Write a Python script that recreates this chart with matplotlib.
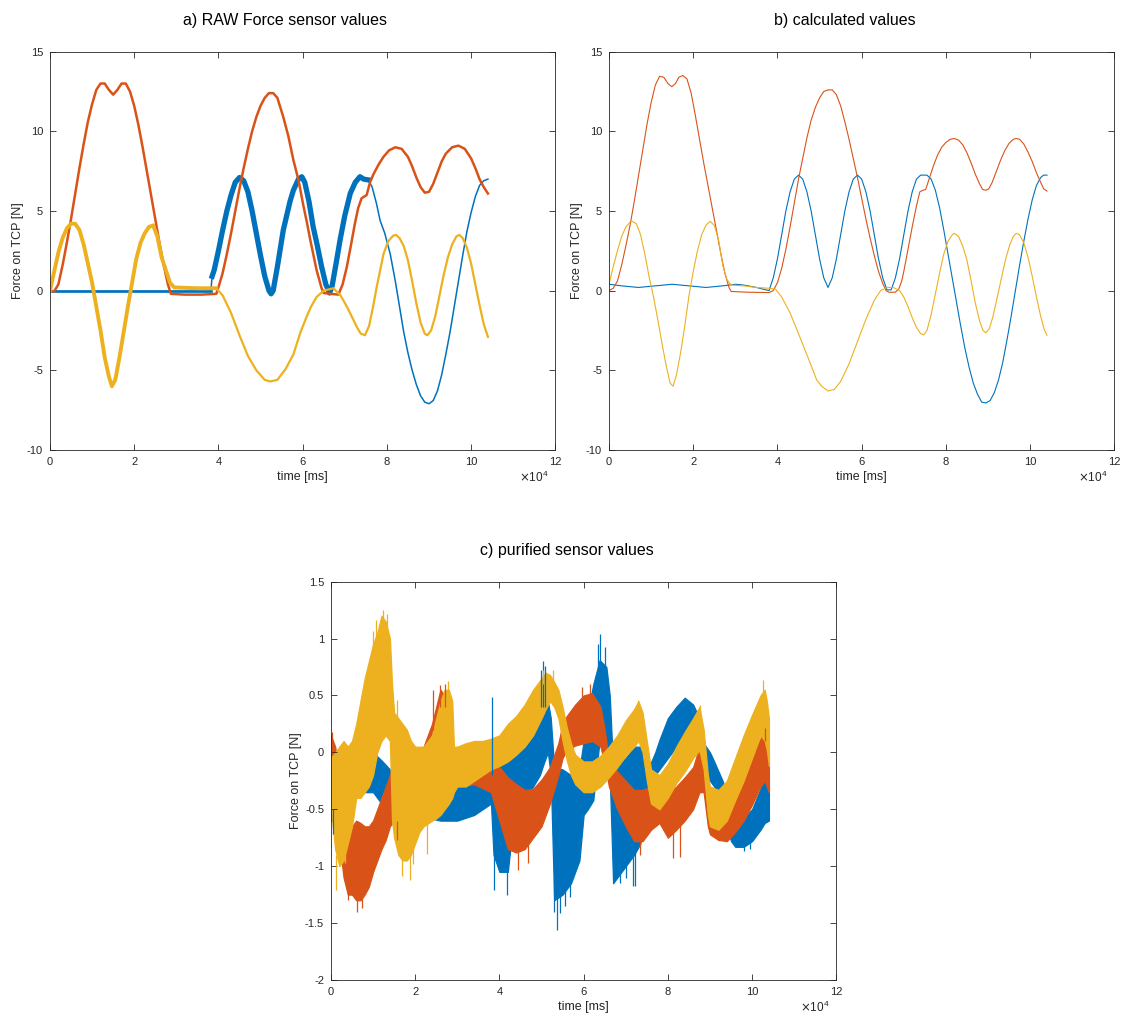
import numpy as np
import matplotlib
matplotlib.use("Agg")
import matplotlib.pyplot as plt
from matplotlib.ticker import FuncFormatter

plt.rcParams['font.family'] = ['Liberation Sans', 'DejaVu Sans']
plt.rcParams['axes.unicode_minus'] = False

# ---------------- colours (MATLAB default order) ----------------
C_BLUE = '#0072BD'
C_ORANGE = '#D95319'
C_YELLOW = '#EDB120'

# ---------------- panel a: RAW force sensor values (time in 1e4 ms) ----------------
a_blue_x = [0, 1, 2, 3, 3.82, 3.85, 3.9, 4.0, 4.1, 4.2, 4.3, 4.4, 4.5, 4.6, 4.7, 4.8, 4.9, 5.0, 5.1, 5.2,
            5.25, 5.3, 5.4, 5.54, 5.7, 5.78, 5.9, 5.98, 6.05, 6.15, 6.25, 6.35, 6.45, 6.55, 6.64, 6.7, 6.8,
            6.89, 7.0, 7.13, 7.25, 7.36, 7.45, 7.56, 7.65, 7.75, 7.84, 7.95, 8.08, 8.2, 8.3, 8.4, 8.5, 8.6,
            8.7, 8.8, 8.9, 9.0, 9.1, 9.2, 9.3, 9.4, 9.5, 9.6, 9.7, 9.8, 9.9, 10.0, 10.1, 10.2, 10.3, 10.4]
a_blue_y = [-0.05, -0.05, -0.05, -0.05, -0.05, 0.9, 1.3, 2.5, 3.8, 5.0, 6.0, 6.8, 7.1, 6.9, 6.2, 5.0, 3.6, 2.2,
            0.9, 0.0, -0.2, 0.0, 1.5, 3.8, 5.6, 6.3, 7.0, 7.15, 6.8, 5.6, 4.0, 2.8, 1.5, 0.4, -0.15, 0.3, 1.8,
            3.2, 4.7, 6.1, 6.8, 7.15, 7.0, 6.95, 6.5, 5.5, 4.4, 3.6, 2.3, 0.6, -1.0, -2.6, -3.9, -5.0,
            -5.9, -6.6, -7.0, -7.1, -6.9, -6.3, -5.3, -4.0, -2.6, -1.0, 0.6, 2.2, 3.7, 4.9, 5.9, 6.6, 6.9, 7.0]

a_orange_x = [0, 0.1, 0.2, 0.3, 0.4, 0.5, 0.6, 0.7, 0.8, 0.9, 1.0, 1.1, 1.2, 1.3, 1.4, 1.5, 1.6, 1.7, 1.8, 1.9,
              2.0, 2.1, 2.2, 2.3, 2.4, 2.5, 2.6, 2.7, 2.8, 2.87, 3.2, 3.6, 3.95, 4.0, 4.1, 4.2, 4.3, 4.4, 4.5,
              4.6, 4.7, 4.8, 4.9, 5.0, 5.1, 5.2, 5.3, 5.4, 5.54, 5.66, 5.78, 5.9, 6.02, 6.1, 6.18, 6.33, 6.45,
              6.5, 6.85, 6.95, 7.05, 7.15, 7.24, 7.32, 7.4, 7.52, 7.6, 7.68, 7.8, 7.92, 8.05, 8.2, 8.35, 8.5,
              8.6, 8.7, 8.8, 8.9, 9.0, 9.1, 9.2, 9.3, 9.4, 9.55, 9.7, 9.85, 10.0, 10.1, 10.2, 10.3, 10.4]
a_orange_y = [0.0, -0.05, 0.4, 1.6, 3.0, 4.5, 6.1, 7.7, 9.2, 10.6, 11.7, 12.6, 13.0, 13.0, 12.6, 12.3, 12.6,
              13.0, 13.0, 12.5, 11.6, 10.4, 9.0, 7.5, 6.0, 4.5, 3.0, 1.6, 0.4, -0.2, -0.25, -0.25, -0.2, 0.2,
              1.1, 2.3, 3.6, 5.0, 6.4, 7.7, 8.9, 10.0, 10.9, 11.6, 12.1, 12.4, 12.4, 12.1, 10.9, 9.7, 8.2,
              6.95, 5.3, 4.3, 3.2, 1.3, 0.15, -0.15, -0.25, 0.4, 1.5, 2.9, 4.2, 5.2, 5.8, 6.0, 6.8, 7.3, 7.9,
              8.4, 8.8, 9.0, 8.9, 8.4, 7.8, 7.1, 6.5, 6.15, 6.2, 6.7, 7.4, 8.1, 8.6, 9.0, 9.1, 8.9, 8.3, 7.7,
              7.0, 6.5, 6.1]

a_yellow_x = [0, 0.1, 0.2, 0.3, 0.4, 0.5, 0.6, 0.7, 0.8, 0.9, 1.0, 1.1, 1.2, 1.3, 1.4, 1.47, 1.55, 1.65, 1.75,
              1.85, 1.95, 2.05, 2.15, 2.25, 2.35, 2.45, 2.55, 2.65, 2.75, 2.85, 2.95, 3.5, 3.95, 4.1, 4.3, 4.5,
              4.7, 4.9, 5.1, 5.23, 5.4, 5.6, 5.78, 5.95, 6.1, 6.2, 6.33, 6.5, 6.73, 6.9, 7.05, 7.18, 7.29,
              7.38, 7.48, 7.58, 7.68, 7.76, 7.85, 7.92, 8.03, 8.15, 8.22, 8.3, 8.4, 8.5, 8.6, 8.7, 8.8, 8.9,
              8.96, 9.05, 9.15, 9.25, 9.35, 9.45, 9.55, 9.65, 9.72, 9.8, 9.9, 10.0, 10.1, 10.2, 10.3, 10.4]
a_yellow_y = [0.0, 1.2, 2.4, 3.3, 3.9, 4.2, 4.2, 3.8, 2.9, 1.7, 0.5, -1.0, -2.5, -4.2, -5.4, -6.0, -5.6, -4.2,
              -2.6, -1.0, 0.5, 2.0, 3.0, 3.6, 4.0, 4.1, 3.4, 2.1, 1.3, 0.5, 0.2, 0.15, 0.15, -0.3, -1.4, -2.8,
              -4.1, -5.0, -5.6, -5.7, -5.6, -4.9, -4.0, -2.6, -1.6, -1.0, -0.4, 0.0, 0.15, -0.3, -1.0, -1.7,
              -2.3, -2.7, -2.8, -2.2, -0.9, 0.25, 1.4, 2.3, 3.1, 3.45, 3.5, 3.3, 2.8, 1.9, 0.6, -0.8, -2.0,
              -2.7, -2.8, -2.5, -1.6, -0.3, 1.0, 2.1, 2.9, 3.4, 3.5, 3.3, 2.7, 1.7, 0.4, -0.9, -2.1, -2.9]

# ---------------- panel b: calculated values ----------------
b_blue_x = [0, 0.3, 0.7, 1.1, 1.5, 1.9, 2.3, 2.7, 3.0, 3.2, 3.5, 3.8, 3.9, 4.0, 4.1, 4.2, 4.3, 4.4, 4.5, 4.6,
            4.7, 4.8, 4.9, 5.0, 5.1, 5.2, 5.3, 5.4, 5.5, 5.6, 5.7, 5.8, 5.9, 6.0, 6.1, 6.2, 6.3, 6.4, 6.5,
            6.6, 6.7, 6.8, 6.9, 7.0, 7.1, 7.2, 7.3, 7.4, 7.55, 7.65, 7.75, 7.85, 7.95, 8.05, 8.15, 8.25,
            8.35, 8.45, 8.55, 8.65, 8.75, 8.85, 8.95, 9.05, 9.15, 9.25, 9.35, 9.45, 9.55, 9.65, 9.75, 9.85,
            9.95, 10.05, 10.15, 10.25, 10.32, 10.4]
b_blue_y = [0.4, 0.3, 0.2, 0.3, 0.4, 0.3, 0.2, 0.3, 0.4, 0.35, 0.2, 0.0, 0.8, 2.0, 3.5, 5.0, 6.2, 7.0, 7.25,
            7.0, 6.2, 5.0, 3.5, 2.0, 0.8, 0.2, 0.8, 2.0, 3.5, 5.0, 6.2, 7.0, 7.25, 7.0, 6.2, 5.0, 3.5, 2.0,
            0.8, 0.05, 0.05, 0.8, 2.0, 3.5, 5.0, 6.2, 7.0, 7.25, 7.25, 7.0, 6.3, 5.2, 3.8, 2.3, 0.8, -0.7,
            -2.2, -3.6, -4.8, -5.8, -6.5, -7.0, -7.05, -6.9, -6.4, -5.6, -4.5, -3.1, -1.6, 0.0, 1.6, 3.1,
            4.5, 5.7, 6.6, 7.1, 7.25, 7.25]

b_orange_x = [0, 0.1, 0.2, 0.3, 0.4, 0.5, 0.6, 0.7, 0.8, 0.9, 1.0, 1.1, 1.2, 1.3, 1.4, 1.49, 1.58, 1.66, 1.75,
              1.85, 1.95, 2.05, 2.15, 2.25, 2.35, 2.45, 2.55, 2.65, 2.75, 2.85, 2.9, 3.3, 3.8, 3.9, 4.0, 4.1,
              4.2, 4.3, 4.4, 4.5, 4.6, 4.7, 4.8, 4.9, 5.0, 5.1, 5.2, 5.3, 5.4, 5.5, 5.6, 5.7, 5.8, 5.9, 6.0,
              6.1, 6.2, 6.3, 6.4, 6.5, 6.58, 6.65, 6.8, 6.88, 6.95, 7.0, 7.1, 7.2, 7.3, 7.38, 7.45, 7.52, 7.6,
              7.7, 7.8, 7.9, 8.0, 8.1, 8.2, 8.3, 8.4, 8.5, 8.6, 8.7, 8.8, 8.87, 8.95, 9.02, 9.1, 9.2, 9.3,
              9.4, 9.5, 9.6, 9.67, 9.75, 9.85, 9.95, 10.05, 10.15, 10.25, 10.32, 10.4]
b_orange_y = [0, 0.15, 0.6, 1.6, 2.8, 4.1, 5.6, 7.2, 8.8, 10.4, 11.8, 12.9, 13.45, 13.4, 13.0, 12.8, 13.0, 13.4,
              13.5, 13.3, 12.4, 11.0, 9.5, 8.0, 6.6, 5.2, 3.8, 2.4, 1.1, 0.2, -0.05, -0.1, -0.12, 0.0, 0.5,
              1.4, 2.6, 4.0, 5.5, 7.0, 8.3, 9.6, 10.7, 11.5, 12.1, 12.5, 12.6, 12.6, 12.3, 11.6, 10.6, 9.5,
              8.3, 7.1, 5.8, 4.5, 3.3, 2.2, 1.2, 0.45, 0.0, -0.1, -0.1, 0.1, 0.6, 1.2, 2.6, 4.0, 5.3, 6.2,
              6.3, 6.35, 7.0, 7.8, 8.5, 9.0, 9.3, 9.5, 9.55, 9.45, 9.15, 8.65, 8.0, 7.3, 6.7, 6.35, 6.3, 6.4,
              6.8, 7.5, 8.2, 8.8, 9.25, 9.5, 9.55, 9.5, 9.2, 8.7, 8.1, 7.4, 6.8, 6.4, 6.25]

b_yellow_x = [0, 0.1, 0.2, 0.3, 0.4, 0.5, 0.55, 0.65, 0.75, 0.85, 0.95, 1.05, 1.15, 1.25, 1.35, 1.45, 1.52, 1.6,
              1.7, 1.8, 1.9, 2.0, 2.1, 2.2, 2.3, 2.4, 2.5, 2.6, 2.7, 2.8, 2.9, 3.2, 3.5, 3.8, 3.95, 4.1, 4.3,
              4.5, 4.62, 4.8, 4.93, 5.05, 5.2, 5.35, 5.5, 5.7, 5.9, 6.0, 6.1, 6.3, 6.45, 6.6, 6.75, 6.9, 7.0,
              7.1, 7.2, 7.3, 7.4, 7.47, 7.55, 7.65, 7.75, 7.85, 7.95, 8.05, 8.15, 8.2, 8.3, 8.4, 8.5, 8.6,
              8.7, 8.8, 8.88, 8.95, 9.03, 9.12, 9.22, 9.32, 9.42, 9.52, 9.6, 9.67, 9.75, 9.85, 9.95, 10.05,
              10.15, 10.25, 10.33, 10.4]
b_yellow_y = [0.4, 1.5, 2.5, 3.4, 4.0, 4.3, 4.35, 4.2, 3.5, 2.3, 0.9, -0.3, -1.7, -3.2, -4.6, -5.8, -6.0, -5.3,
              -3.9, -2.2, -0.3, 1.2, 2.5, 3.5, 4.1, 4.35, 4.1, 3.2, 1.6, 0.7, 0.35, 0.3, 0.2, 0.15, 0.1, -0.4,
              -1.4, -2.7, -3.5, -4.7, -5.6, -6.0, -6.3, -6.2, -5.7, -4.6, -3.2, -2.5, -1.8, -0.6, 0.0, 0.2,
              0.2, 0.0, -0.4, -1.0, -1.7, -2.3, -2.7, -2.78, -2.5, -1.5, -0.2, 1.1, 2.3, 3.1, 3.5, 3.6, 3.4,
              2.8, 1.9, 0.6, -0.8, -1.9, -2.5, -2.65, -2.4, -1.6, -0.4, 0.8, 2.0, 2.9, 3.4, 3.6, 3.5, 3.0,
              2.1, 0.9, -0.4, -1.6, -2.4, -2.8]

# ---------------- panel c: purified sensor values (noise band envelopes) ----------------
c_blue_x = [0.0, 0.1, 0.3, 0.6, 0.8, 1.0, 1.2, 1.4, 1.6, 2.0, 2.6, 3.0, 3.4, 3.6, 3.8, 3.86, 4.0, 4.2, 4.33,
            4.64, 4.96, 5.05, 5.15, 5.22, 5.3, 5.5, 5.7, 5.9, 6.0, 6.1, 6.23, 6.38, 6.54, 6.62, 6.7, 6.8, 7.0,
            7.2, 7.35, 7.45, 7.55, 7.7, 7.8, 8.0, 8.2, 8.4, 8.6, 8.75, 8.85, 9.0, 9.1, 9.3, 9.5, 9.6, 9.8,
            10.0, 10.2, 10.3, 10.4]
c_blue_hi = [-0.35, -0.35, -0.25, -0.15, -0.05, 0.0, -0.07, -0.15, -0.25, -0.3, -0.3, -0.3, -0.28, -0.25, -0.2,
             -0.3, -0.1, -0.05, 0.11, 0.31, 0.49, 0.55, 0.45, 0.3, -0.13, -0.15, -0.2, -0.15, 0.1, 0.35, 0.6,
             0.81, 0.75, 0.5, -0.13, -0.1, -0.05, 0.05, 0.05, -0.1, -0.13, 0.0, 0.11, 0.3, 0.4, 0.48, 0.42,
             0.3, 0.08, 0.0, -0.08, -0.25, -0.5, -0.6, -0.58, -0.5, -0.32, -0.22, -0.18]
c_blue_lo = [-0.6, -0.6, -0.4, -0.35, -0.35, -0.35, -0.45, -0.5, -0.5, -0.55, -0.6, -0.6, -0.55, -0.5, -0.45,
             -0.9, -1.05, -1.05, -0.6, -0.4, -0.2, -0.1, 0.0, -0.2, -1.3, -1.25, -1.15, -0.95, -0.55, -0.5,
             -0.42, 0.11, 0.08, -0.2, -1.15, -1.1, -1.0, -0.9, -0.8, -0.5, -0.3, -0.2, -0.15, -0.05, 0.05, 0.1,
             0.08, -0.05, -0.18, -0.25, -0.3, -0.52, -0.78, -0.83, -0.83, -0.78, -0.68, -0.62, -0.6]

c_orange_x = [0.0, 0.1, 0.2, 0.3, 0.4, 0.5, 0.6, 0.7, 0.8, 0.9, 1.0, 1.1, 1.2, 1.3, 1.4, 1.5, 1.6, 1.8, 2.0,
              2.2, 2.4, 2.5, 2.6, 2.7, 2.8, 2.9, 3.0, 3.4, 3.8, 4.0, 4.2, 4.4, 4.6, 4.8, 5.0, 5.2, 5.4, 5.5,
              5.6, 5.8, 6.0, 6.2, 6.4, 6.5, 6.6, 6.8, 7.0, 7.2, 7.4, 7.6, 7.8, 8.0, 8.2, 8.4, 8.6, 8.75,
              8.85, 8.95, 9.0, 9.2, 9.4, 9.6, 9.8, 10.0, 10.2, 10.3, 10.4]
c_orange_hi = [0.15, 0.05, -0.2, -0.5, -0.65, -0.65, -0.6, -0.62, -0.65, -0.65, -0.6, -0.5, -0.4, -0.3, -0.2,
               -0.1, -0.05, -0.1, -0.1, 0.05, 0.25, 0.4, 0.55, 0.5, 0.3, -0.1, -0.15, -0.12, -0.1, -0.13,
               -0.22, -0.28, -0.33, -0.32, -0.24, -0.13, 0.08, 0.25, 0.32, 0.42, 0.5, 0.52, 0.4, 0.2, -0.08,
               -0.17, -0.25, -0.33, -0.33, -0.3, -0.32, -0.36, -0.3, -0.22, -0.13, 0.05, 0.0, -0.35, -0.4,
               -0.52, -0.5, -0.35, -0.18, -0.02, 0.12, 0.2, 0.0]
c_orange_lo = [-0.4, -0.6, -0.8, -1.1, -1.25, -1.25, -1.3, -1.3, -1.25, -1.18, -1.05, -0.95, -0.85, -0.77,
               -0.65, -0.6, -0.55, -0.55, -0.45, -0.3, -0.1, 0.0, 0.1, 0.05, -0.05, -0.3, -0.3, -0.28, -0.35,
               -0.6, -0.85, -0.88, -0.85, -0.75, -0.65, -0.45, -0.2, -0.05, 0.02, 0.06, 0.08, 0.1, 0.05,
               -0.1, -0.3, -0.5, -0.65, -0.78, -0.78, -0.68, -0.62, -0.75, -0.68, -0.6, -0.5, -0.35, -0.35,
               -0.65, -0.72, -0.77, -0.78, -0.7, -0.6, -0.46, -0.3, -0.25, -0.35]

c_yellow_x = [0.0, 0.1, 0.2, 0.3, 0.4, 0.5, 0.6, 0.7, 0.8, 0.9, 1.0, 1.1, 1.2, 1.3, 1.4, 1.45, 1.5, 1.6, 1.7,
              1.8, 1.9, 2.0, 2.1, 2.2, 2.4, 2.5, 2.6, 2.7, 2.8, 2.88, 2.92, 3.0, 3.2, 3.4, 3.6, 3.8, 4.0, 4.2,
              4.4, 4.6, 4.8, 5.0, 5.1, 5.2, 5.3, 5.4, 5.5, 5.6, 5.7, 5.8, 6.0, 6.2, 6.4, 6.6, 6.8, 7.0, 7.2,
              7.3, 7.4, 7.5, 7.6, 7.8, 8.0, 8.2, 8.4, 8.6, 8.75, 8.85, 8.95, 9.0, 9.2, 9.4, 9.6, 9.8, 10.0,
              10.2, 10.3, 10.35, 10.4]
c_yellow_hi = [-0.05, 0.0, 0.05, 0.1, 0.05, 0.1, 0.25, 0.45, 0.65, 0.8, 0.95, 1.05, 1.2, 1.15, 1.0, 0.6, 0.35,
               0.3, 0.25, 0.2, 0.1, 0.05, 0.05, 0.05, 0.15, 0.3, 0.45, 0.55, 0.55, 0.45, 0.05, 0.05, 0.08,
               0.1, 0.1, 0.12, 0.15, 0.25, 0.32, 0.42, 0.55, 0.65, 0.7, 0.68, 0.62, 0.55, 0.4, 0.22, 0.08,
               -0.02, -0.08, -0.08, -0.03, 0.05, 0.15, 0.28, 0.38, 0.45, 0.35, 0.1, -0.15, -0.2, -0.1, 0.05,
               0.18, 0.3, 0.4, 0.2, -0.2, -0.3, -0.33, -0.25, -0.05, 0.15, 0.33, 0.5, 0.55, 0.45, 0.3]
c_yellow_lo = [-0.5, -0.85, -1.0, -0.95, -0.8, -0.65, -0.4, -0.4, -0.35, -0.3, -0.2, 0.0, 0.1, 0.15, 0.1,
               -0.6, -0.75, -0.9, -0.95, -0.95, -0.9, -0.8, -0.7, -0.65, -0.6, -0.58, -0.55, -0.5, -0.45,
               -0.4, -0.35, -0.3, -0.3, -0.25, -0.2, -0.15, -0.12, -0.08, -0.02, 0.05, 0.15, 0.3, 0.38, 0.45,
               0.4, 0.3, 0.1, -0.07, -0.2, -0.28, -0.35, -0.35, -0.3, -0.22, -0.13, -0.03, 0.05, 0.1, 0.0,
               -0.25, -0.45, -0.5, -0.4, -0.27, -0.17, -0.05, 0.02, -0.15, -0.55, -0.65, -0.68, -0.6, -0.42,
               -0.25, -0.05, 0.15, 0.1, 0.02, -0.12]

# isolated noise spikes in panel c: x, spike start, spike end
c_blue_spike_x = [3.82, 3.86, 4.17, 4.98, 5.04, 5.08, 5.3, 5.36, 5.44, 5.55, 5.67, 6.35, 6.38, 6.5, 6.86,
                  7.0, 7.18, 7.22, 9.8, 9.95, 0.05]
c_blue_spike_a = [-0.2, -0.9, -0.9, 0.4, 0.4, 0.4, -1.1, -1.1, -1.1, -1.1, -1.0, 0.7, 0.7, 0.6, -0.9, -0.9,
                  -0.8, -0.8, -0.75, -0.7, -0.5]
c_blue_spike_b = [0.49, -1.21, -1.25, 0.72, 0.8, 0.76, -1.4, -1.56, -1.41, -1.35, -1.27, 0.95, 1.04, 0.93,
                  -1.15, -1.1, -1.17, -1.17, -0.87, -0.85, -0.72]
c_orange_spike_x = [0.41, 0.61, 0.73, 0.97, 1.56, 2.43, 2.59, 2.71, 4.45, 4.68, 5.95, 6.15, 7.34, 8.13, 8.29,
                    10.31, 0.02]
c_orange_spike_a = [-1.1, -1.2, -1.2, -1.0, -0.6, 0.2, 0.4, 0.4, -0.8, -0.7, 0.4, 0.45, -0.7, -0.7, -0.6,
                    0.1, 0.0]
c_orange_spike_b = [-1.3, -1.4, -1.37, -1.09, -0.77, 0.55, 0.59, 0.6, -1.03, -0.97, 0.57, 0.6, -0.9, -0.93,
                    -0.92, 0.21, 0.18]
c_yellow_spike_x = [0.13, 0.33, 0.85, 1.0, 1.08, 1.24, 1.32, 1.56, 1.68, 1.88, 1.96, 2.27, 2.79, 5.04, 5.28,
                    7.3, 8.76, 10.25]
c_yellow_spike_a = [-0.9, -0.9, 0.5, 0.9, 1.0, 1.1, 1.1, 0.3, -0.9, -0.9, -0.75, -0.6, 0.5, 0.6, 0.6, 0.4,
                    0.35, 0.45]
c_yellow_spike_b = [-1.21, -0.97, 0.68, 1.07, 1.16, 1.25, 1.22, 0.46, -1.09, -1.12, -0.98, -0.89, 0.63, 0.72,
                    0.72, 0.46, 0.42, 0.64]

AX_COL = '#262626'


def style_axes(ax, ylim, yticks):
    ax.set_xlim(0, 12)
    ax.set_ylim(*ylim)
    ax.set_xticks(range(0, 13, 2))
    ax.set_yticks(yticks)
    fmt = FuncFormatter(lambda v, p: f'{v:g}')
    ax.xaxis.set_major_formatter(fmt)
    ax.yaxis.set_major_formatter(fmt)
    ax.tick_params(direction='in', top=True, right=True, length=4, width=0.6,
                   colors=AX_COL, labelsize=8, pad=5)
    for s in ax.spines.values():
        s.set_color(AX_COL)
        s.set_linewidth(0.6)
    ax.set_xlabel('time [ms]', fontsize=9, color=AX_COL, labelpad=3)
    ax.set_ylabel('Force on TCP [N]', fontsize=9, color=AX_COL, labelpad=2)
    ax.text(0.987, -0.068, r'$\times\mathregular{10^4}$', transform=ax.transAxes,
            ha='right', va='center', fontsize=8.5, color=AX_COL)


fig = plt.figure(figsize=(11.23, 10.21), dpi=100)
ax_a = fig.add_axes([0.0445, 0.5593, 0.45, 0.3901])
ax_b = fig.add_axes([0.5423, 0.5593, 0.45, 0.3901])
ax_c = fig.add_axes([0.2947, 0.0402, 0.45, 0.3901])

# ---- panel a ----
bx = np.array(a_blue_x); by = np.array(a_blue_y)
ax_a.plot(bx, by, color=C_BLUE, lw=1.1)
m = bx <= 3.82
ax_a.plot(bx[m], by[m], color=C_BLUE, lw=1.9)
m = (bx >= 3.85) & (bx <= 7.56)
ax_a.plot(bx[m], by[m], color=C_BLUE, lw=3.8)
ax_a.plot(a_orange_x, a_orange_y, color=C_ORANGE, lw=1.8)
yx = np.array(a_yellow_x); yy = np.array(a_yellow_y)
ax_a.plot(yx, yy, color=C_YELLOW, lw=1.6)
m = yx <= 3.95
ax_a.plot(yx[m], yy[m], color=C_YELLOW, lw=2.8)
style_axes(ax_a, (-10, 15), range(-10, 16, 5))
ax_a.set_title('a) RAW Force sensor values', fontsize=11.5, x=0.466, pad=19)

# ---- panel b ----
ax_b.plot(b_blue_x, b_blue_y, color=C_BLUE, lw=0.8)
ax_b.plot(b_orange_x, b_orange_y, color=C_ORANGE, lw=0.8)
ax_b.plot(b_yellow_x, b_yellow_y, color=C_YELLOW, lw=0.8)
style_axes(ax_b, (-10, 15), range(-10, 16, 5))
ax_b.set_title('b) calculated values', fontsize=11.5, x=0.466, pad=19)

# ---- panel c ----
for col, xs, hi, lo, sx, sa, sb in [
        (C_BLUE, c_blue_x, c_blue_hi, c_blue_lo, c_blue_spike_x, c_blue_spike_a, c_blue_spike_b),
        (C_ORANGE, c_orange_x, c_orange_hi, c_orange_lo, c_orange_spike_x, c_orange_spike_a, c_orange_spike_b),
        (C_YELLOW, c_yellow_x, c_yellow_hi, c_yellow_lo, c_yellow_spike_x, c_yellow_spike_a, c_yellow_spike_b)]:
    ax_c.fill_between(xs, lo, hi, color=col, lw=0.9, edgecolor=col)
    ax_c.vlines(sx, sa, sb, color=col, lw=0.9)
style_axes(ax_c, (-2, 1.5), np.arange(-2, 1.51, 0.5))
ax_c.set_title('c) purified sensor values', fontsize=11.5, x=0.466, pad=19)

fig.savefig('out.png', dpi=100)
